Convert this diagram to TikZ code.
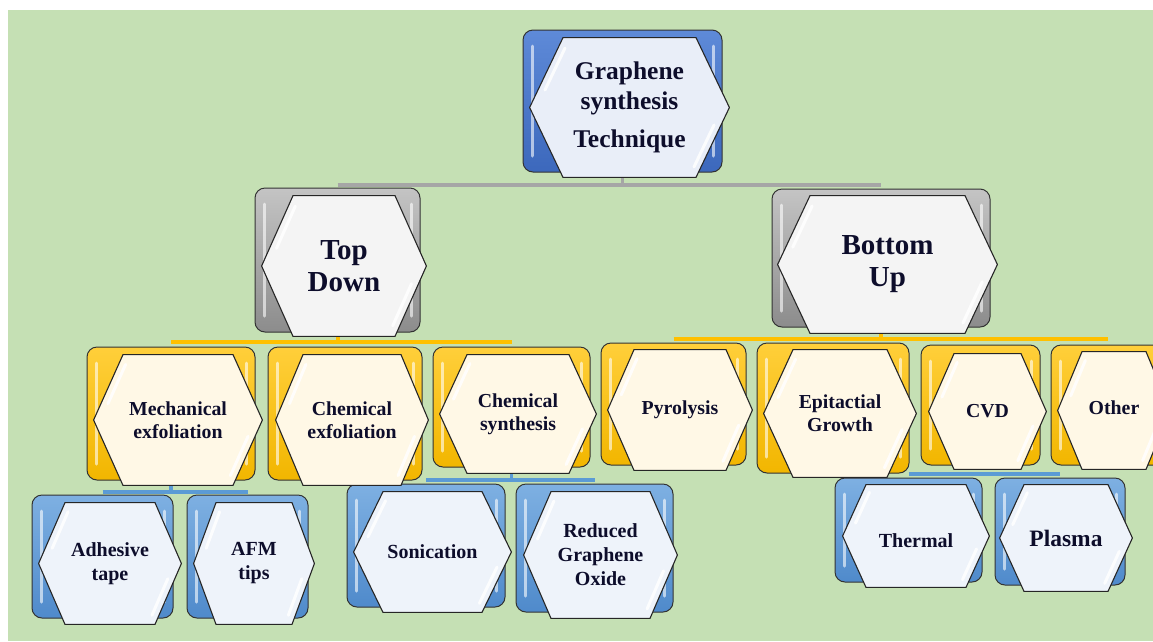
\documentclass[tikz,border=0pt]{standalone}
\usepackage{fontspec}
\setmainfont{Liberation Serif}
\usetikzlibrary{calc}
\pgfdeclarelayer{bg}
\pgfdeclarelayer{background}
\pgfsetlayers{bg,background,main}
\definecolor{bgc}{HTML}{C5E0B4}
\definecolor{txt}{HTML}{0D0D2B}
\definecolor{hexline}{HTML}{262626}
\definecolor{frline}{HTML}{333333}
\definecolor{bAt}{HTML}{5E8AD8}\definecolor{bAb}{HTML}{3C68BC}
\definecolor{gAt}{HTML}{C4C4C4}\definecolor{gAb}{HTML}{8C8C8C}
\definecolor{yAt}{HTML}{FFCF3A}\definecolor{yAb}{HTML}{F2B600}
\definecolor{cAt}{HTML}{7EB0E2}\definecolor{cAb}{HTML}{4F8ACB}
\definecolor{hexroot}{HTML}{E9EEF8}
\definecolor{hexgray}{HTML}{F4F4F4}
\definecolor{hexyel}{HTML}{FFF8E6}
\definecolor{hexblu}{HTML}{EEF3FA}
\definecolor{barg}{HTML}{A6A6A6}
\definecolor{bary}{HTML}{FFC000}
\definecolor{barb}{HTML}{5B9BD5}
\tikzset{
  hexd/.store in=\hexdepth, hexd=28pt,
  hexcol/.store in=\hexcolor, hexcol=white,
  hexa/.style={shape=rectangle, draw=none, fill=none, inner sep=0pt,
    align=center, text=txt,
    path picture={
      \coordinate (W) at ([xshift=0.6pt]path picture bounding box.west);
      \coordinate (E) at ([xshift=-0.6pt]path picture bounding box.east);
      \coordinate (TL) at ([xshift=\hexdepth,yshift=-0.6pt]path picture bounding box.north west);
      \coordinate (TR) at ([xshift=-\hexdepth,yshift=-0.6pt]path picture bounding box.north east);
      \coordinate (BR) at ([xshift=-\hexdepth,yshift=0.6pt]path picture bounding box.south east);
      \coordinate (BL) at ([xshift=\hexdepth,yshift=0.6pt]path picture bounding box.south west);
      \path[fill=\hexcolor] (W) -- (TL) -- (TR) -- (E) -- (BR) -- (BL) -- cycle;
      \draw[white, line width=3pt, opacity=.85, line cap=round]
        ($(E)!0.25!(BR)+(-7pt,0)$) -- ($(E)!0.85!(BR)+(-7pt,0)$);
      \draw[white, line width=3pt, opacity=.85, line cap=round]
        ($(W)!0.25!(TL)+(7pt,0)$) -- ($(W)!0.85!(TL)+(7pt,0)$);
      \path[draw=hexline, line width=1.1pt, line join=round]
        (W) -- (TL) -- (TR) -- (E) -- (BR) -- (BL) -- cycle;
    }},
  fr/.style={shape=rectangle, rounded corners=10pt, draw=frline,
    line width=1pt, inner sep=0pt,
    path picture={
      \draw[white, opacity=.6, line width=3pt, line cap=round]
        ([xshift=9pt,yshift=-16pt]path picture bounding box.north west) --
        ([xshift=9pt,yshift=16pt]path picture bounding box.south west);
      \draw[white, opacity=.6, line width=3pt, line cap=round]
        ([xshift=-9pt,yshift=-16pt]path picture bounding box.north east) --
        ([xshift=-9pt,yshift=16pt]path picture bounding box.south east);
    }},
  frA/.style={fr, top color=bAt, bottom color=bAb},
  frG/.style={fr, top color=gAt, bottom color=gAb},
  frY/.style={fr, top color=yAt, bottom color=yAb},
  frC/.style={fr, top color=cAt, bottom color=cAb},
  hxA/.style={hexa, hexcol=hexroot, font=\fontsize{25.5}{30}\selectfont\bfseries},
  hxG/.style={hexa, hexcol=hexgray, font=\fontsize{29}{32}\selectfont\bfseries},
  hxY/.style={hexa, hexcol=hexyel, font=\fontsize{19.8}{23}\selectfont\bfseries},
  hxC/.style={hexa, hexcol=hexblu, font=\fontsize{20}{24}\selectfont\bfseries},
  gbar/.style={draw=barg, line width=3.5pt},
  ybar/.style={draw=bary, line width=4pt},
  bbar/.style={draw=barb, line width=3.5pt},
}
\begin{document}
\begin{tikzpicture}[x=1pt,y=-1pt]
\useasboundingbox (0,0) rectangle (1153,641);
\clip (0,0) rectangle (1153,641);
\begin{pgfonlayer}{bg}
  \fill[white] (0,0) rectangle (1153,641);
  \fill[bgc] (8,10) rectangle (1153,641);
\end{pgfonlayer}

% ---------- frames ----------
\node[frA, minimum width=199pt, minimum height=142pt] (rootF) at (622.5,101) {};
\node[frG, minimum width=165pt, minimum height=144pt] (tdF) at (337.5,260) {};
\node[frG, minimum width=218pt, minimum height=138pt] (buF) at (881,258) {};
\node[frY, minimum width=168pt, minimum height=133pt] (mechF) at (171,413.5) {};
\node[frY, minimum width=154pt, minimum height=133pt] (chexF) at (345,413.5) {};
\node[frY, minimum width=157pt, minimum height=120pt] (chsynF) at (511.5,407) {};
\node[frY, minimum width=145pt, minimum height=122pt] (pyroF) at (673.5,404) {};
\node[frY, minimum width=152pt, minimum height=130pt] (epiF) at (833,408) {};
\node[frY, minimum width=119pt, minimum height=120pt] (cvdF) at (980.5,405) {};
\node[frY, minimum width=114pt, minimum height=120pt] (otherF) at (1108,405) {};
\node[frC, minimum width=141pt, minimum height=123pt] (adhF) at (102.5,556.5) {};
\node[frC, minimum width=121pt, minimum height=123pt] (afmF) at (247.5,556.5) {};
\node[frC, minimum width=158pt, minimum height=123pt] (sonF) at (426,545.5) {};
\node[frC, minimum width=157pt, minimum height=128pt] (rgoF) at (594.5,548) {};
\node[frC, minimum width=147pt, minimum height=104pt] (thermF) at (908.5,530) {};
\node[frC, minimum width=130pt, minimum height=107pt] (plasF) at (1060,531.5) {};

% ---------- hexagons ----------
\node[hxA, hexd=34pt, minimum width=201pt, minimum height=141pt] (root) at (629.5,107.5)
  {Graphene\\synthesis\\[8pt]Technique};
\node[hxG, hexd=32pt, minimum width=166pt, minimum height=142pt] (td) at (344,266) {Top\\Down};
\node[hxG, hexd=33pt, minimum width=221pt, minimum height=139pt] (bu) at (887.5,264.5) {Bottom\\Up};
\node[hxY, hexd=30pt, minimum width=170pt, minimum height=132pt] (mech) at (178,420) {Mechanical\\exfoliation};
\node[hxY, hexd=28pt, minimum width=154pt, minimum height=132pt] (chex) at (352,420) {Chemical\\exfoliation};
\node[hxY, hexd=28pt, minimum width=158pt, minimum height=120pt] (chsyn) at (518,414) {Chemical\\synthesis};
\node[hxY, hexd=27pt, minimum width=146pt, minimum height=122pt] (pyro) at (680,410) {Pyrolysis};
\node[hxY, hexd=30pt, minimum width=154pt, minimum height=129pt] (epi) at (840,413.5) {Epitactial\\Growth};
\node[hxY, hexd=26pt, minimum width=119pt, minimum height=117pt] (cvd) at (987.5,411.5) {CVD};
\node[hxY, hexd=25pt, minimum width=114pt, minimum height=119pt] (other) at (1114,410.5) {\raisebox{3pt}[\height][\depth]{Other}};
\node[hxC, hexd=27pt, minimum width=144pt, minimum height=123pt] (adh) at (110,563.5) {Adhesive\\tape};
\node[hxC, hexd=23pt, minimum width=122pt, minimum height=123pt] (afm) at (254,563.5) {AFM\\tips};
\node[hxC, hexd=30pt, minimum width=159pt, minimum height=122pt] (son) at (432.5,552) {Sonication};
\node[hxC, hexd=28pt, minimum width=155pt, minimum height=128pt] (rgo) at (600.5,555) {Reduced\\Graphene\\Oxide};
\node[hxC, hexd=24pt, minimum width=148pt, minimum height=104pt] (therm) at (916,536) {\raisebox{-5pt}[\height][\depth]{Thermal}};
\node[hxC, hexd=25pt, minimum width=134pt, minimum height=108pt, font=\fontsize{23.5}{28}\selectfont\bfseries] (plas) at (1066,538) {Plasma};

% ---------- connectors ----------
\coordinate (bus0) at (0,185);
\coordinate (busTD) at (0,342);
\coordinate (busBU) at (0,339);
\coordinate (busME) at (0,492);
\coordinate (busCS) at (0,480);
\coordinate (busEP) at (0,474);
\begin{pgfonlayer}{background}
  \draw[gbar] (rootF.south) -- (rootF.south |- bus0);
  \draw[gbar] (tdF.north |- bus0) -- (buF.north |- bus0);
  \draw[ybar] (tdF.south) -- (tdF.south |- busTD);
  \draw[ybar] (mechF.north |- busTD) -- (chsynF.north |- busTD);
  \draw[ybar] (buF.south) -- (buF.south |- busBU);
  \draw[ybar] (pyroF.north |- busBU) -- (otherF.north |- busBU);
  \draw[bbar] (mechF.south) -- (mechF.south |- busME);
  \draw[bbar] (adhF.north |- busME) -- (afmF.north |- busME);
  \draw[bbar] (chsynF.south) -- (chsynF.south |- busCS);
  \draw[bbar] (sonF.north |- busCS) -- (rgoF.north |- busCS);
  \draw[bbar] (epiF.south) -- (epiF.south |- busEP);
  \draw[bbar] (thermF.north |- busEP) -- (plasF.north |- busEP);
\end{pgfonlayer}
\end{tikzpicture}
\end{document}
